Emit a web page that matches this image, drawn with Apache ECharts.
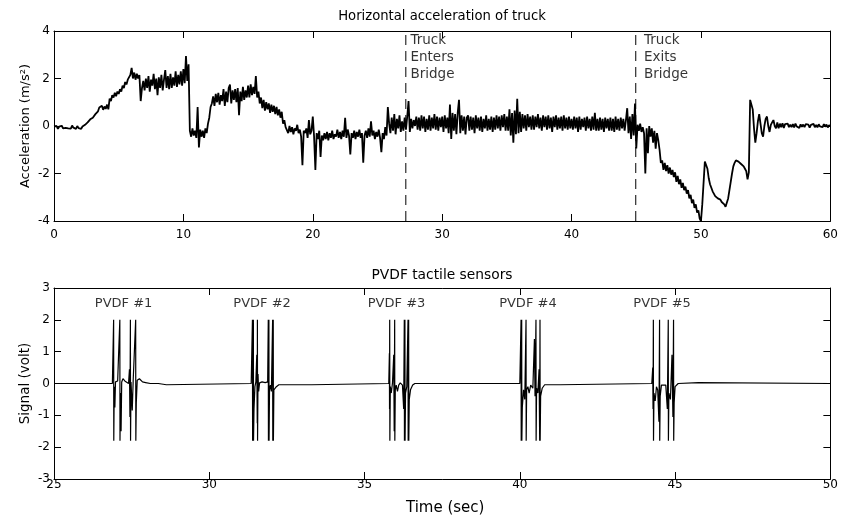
<!DOCTYPE html>
<html>
<head>
<meta charset="utf-8">
<script src="https://cdn.jsdelivr.net/npm/echarts@6/dist/echarts.min.js"></script>
<style>
html,body{margin:0;padding:0;background:#fff;}
#chart{width:841px;height:519px;}
</style>
</head>
<body>
<div id="chart"></div>
<script>
// ---------- DATA ----------
// Horizontal acceleration of truck, sampled every accelStep seconds from t = 0 (m/s^2)
const accelStep = 0.1;
const accelValues = [
-0.02,-0.1,0.0,-0.12,-0.03,-0.09,0.01,-0.1,-0.04,-0.08,
0.0,-0.1,-0.03,-0.11,0.02,-0.07,-0.02,-0.12,0.0,-0.09,
-0.04,-0.12,-0.02,-0.1,0.05,0.02,0.15,0.12,0.28,0.22,
0.35,0.32,0.5,0.45,0.62,0.78,0.7,0.85,0.68,0.82,
0.72,0.9,0.7,1.15,1.05,1.3,1.2,1.4,1.25,1.45,
1.35,1.55,1.45,1.7,1.6,1.85,1.75,1.95,1.9,2.15,
2.45,2.0,2.25,1.95,2.2,2.0,2.15,1.05,1.6,1.9,
1.5,2.0,1.6,2.1,1.45,1.95,1.7,2.2,1.55,2.0,
1.3,2.05,1.6,2.15,1.5,1.95,2.35,1.6,2.1,1.55,
2.2,1.6,2.05,1.7,2.3,1.65,2.15,1.75,2.3,1.7,
2.4,1.8,2.95,1.9,2.6,-0.2,-0.45,-0.1,-0.4,-0.2,
-0.5,0.8,-0.9,-0.15,-0.45,-0.2,-0.5,-0.1,-0.3,0.1,
0.35,0.8,0.95,1.25,0.85,1.35,1.0,1.4,0.9,1.3,
1.05,1.55,0.85,1.45,1.0,1.6,1.75,0.95,1.5,1.1,
1.55,1.0,1.6,0.45,1.45,1.05,1.65,1.1,1.5,1.2,
1.7,1.2,1.75,1.3,1.65,1.35,2.1,1.2,1.45,0.95,
1.2,0.75,1.1,0.65,1.0,0.7,0.95,0.55,0.9,0.6,
0.85,0.5,0.8,0.45,0.7,0.35,0.6,0.1,0.25,-0.05,
-0.1,-0.3,0.0,-0.25,-0.05,-0.35,-0.1,-0.2,0.05,-0.3,
-0.15,-0.45,-1.65,-0.2,-0.3,-0.1,-0.5,0.25,-0.35,-0.2,
0.4,-0.45,-1.85,-0.3,-0.55,-0.2,-1.3,-0.4,-0.6,-0.3,
-0.55,-0.25,-0.6,-0.3,-0.5,-0.2,-0.55,-0.35,-0.45,-0.15,
-0.5,-0.25,-0.55,-0.2,-0.45,0.35,-0.5,-0.15,-0.4,-1.2,
-0.3,-0.5,-0.2,-0.55,-0.25,-0.45,-0.15,-0.5,-0.3,-1.55,
-0.4,-0.2,-0.5,-0.1,-0.45,0.2,-0.4,-0.2,-0.55,-0.25,
-0.45,-0.15,-0.5,-1.1,-0.3,-0.55,-0.05,-0.4,0.8,0.1,
-0.3,0.35,-0.2,0.5,-0.35,0.3,-0.1,0.45,-0.25,0.2,
-0.2,0.35,-0.15,0.4,1.05,-0.25,0.3,-0.1,0.25,0.0,
0.4,-0.15,0.35,-0.2,0.45,-0.1,0.4,-0.25,0.3,-0.15,
0.45,-0.2,0.35,-0.1,0.5,-0.15,0.4,-0.2,0.35,-0.05,
0.4,-0.25,0.45,-0.1,0.35,-0.3,0.9,-0.55,0.55,-0.2,
0.5,-0.35,0.55,1.1,-0.3,0.45,-0.2,0.4,-0.35,0.35,
0.45,-0.2,0.4,-0.15,0.35,-0.3,0.45,-0.1,0.35,-0.2,
0.4,-0.25,0.3,-0.1,0.45,-0.2,0.3,-0.15,0.4,-0.25,
0.35,-0.15,0.45,-0.1,0.4,-0.2,0.45,-0.05,0.5,-0.2,
0.4,-0.2,0.7,-0.4,0.55,-0.7,0.65,-0.35,1.15,-0.3,
0.6,-0.25,0.5,-0.1,0.45,-0.2,0.5,-0.05,0.4,-0.15,
0.45,-0.15,0.4,-0.05,0.5,-0.1,0.35,-0.2,0.45,-0.05,
0.4,-0.15,0.45,-0.1,0.35,-0.25,0.4,-0.05,0.45,-0.15,
0.35,-0.1,0.4,-0.2,0.45,-0.1,0.35,-0.15,0.4,-0.1,
0.3,-0.15,0.4,-0.1,0.35,-0.25,0.4,-0.15,0.3,-0.05,
0.35,-0.2,0.4,-0.1,0.3,-0.2,0.4,-0.15,0.55,-0.2,
0.3,-0.2,0.35,-0.15,0.3,-0.25,0.35,-0.1,0.3,-0.2,
0.35,-0.2,0.3,-0.25,0.4,-0.15,0.3,-0.2,0.35,-0.1,
0.3,-0.2,0.25,0.75,-0.3,0.4,-0.55,0.5,-0.4,0.95,
-0.95,0.05,-0.2,0.1,-0.25,-0.05,-0.3,-2.0,-0.1,-1.15,
0.0,-0.45,-0.1,-0.7,-0.2,-0.95,-0.3,-0.6,-1.0,-1.55,
-1.45,-1.85,-1.55,-1.9,-1.65,-2.0,-1.75,-2.05,-1.85,-2.15,
-1.95,-2.35,-2.1,-2.45,-2.25,-2.6,-2.4,-2.7,-2.55,-2.85,
-2.7,-3.05,-2.9,-3.25,-3.1,-3.45,-3.3,-3.65,-3.55,-3.9,
-4.0,-3.3,-2.4,-1.5,-1.45,-1.8,-2.2,-2.45,-2.6,-2.75,
-2.8,-2.95,-2.9,-3.05,-3.1,-3.1,-3.2,-3.25,-3.3,-3.4,
-3.35,-3.05,-2.7,-2.35,-2.0,-1.7,-1.55,-1.45,-1.4,-1.5,
-1.55,-1.6,-1.65,-1.7,-1.8,-1.9,-2.25,-1.95,1.1,0.9,
0.7,-0.1,-0.7,-0.3,0.2,0.5,0.1,-0.3,-0.45,0.0,
0.3,0.4,0.0,-0.25,0.05,0.15,0.25,0.0,-0.1,0.15,
-0.1,0.1,-0.05,0.12,-0.08,0.08,0.0,0.1,-0.05,0.06,
-0.05,0.08,-0.06,0.1,-0.02,0.05,-0.08,0.07,-0.03,0.06,
-0.05,0.08,0.0,0.06,-0.07,0.05,-0.02,0.09,-0.05,0.04,
-0.06,0.07,-0.02,0.05,-0.05,0.08,-0.03,0.06,-0.06,0.03,
0.0
];

// Bridge crossing events (time, s) and their annotations
const crossingTimes = [27.19, 44.96];
const crossingTexts = ['Truck\nEnters\nBridge', 'Truck\nExits\nBridge'];
const crossingTextX = [27.55, 45.6];
const crossingTextY = 2.9;

// PVDF tactile sensor signal (time s, volt)
const sensorTime = [
25,26.88,26.92,26.925,26.94,26.96,26.98,27.05,27.1,27.12,27.125,27.14,27.16,27.18,27.22,27.28,27.33,27.4,27.43,27.445,27.46,27.465,27.48,27.52,27.55,27.6,27.63,27.635,27.65,27.68,27.75,27.85,27.95,28.1,28.36,28.37,28.62,28.63,
31.35,31.39,31.395,31.41,31.42,31.425,31.44,31.47,31.5,31.53,31.545,31.55,31.555,31.57,31.59,31.62,31.7,31.8,31.88,31.9,31.905,31.92,31.925,31.94,31.97,32.0,32.04,32.045,32.06,32.065,32.08,32.12,32.16,32.24,33.3,33.32,
35.78,35.8,35.805,35.81,35.815,35.83,35.86,35.9,35.94,35.955,35.97,35.975,35.99,36.02,36.06,36.1,36.15,36.22,36.26,36.28,36.285,36.3,36.305,36.32,36.36,36.4,36.405,36.42,36.425,36.44,36.48,36.55,36.62,
40.0,40.04,40.045,40.06,40.065,40.08,40.12,40.16,40.2,40.205,40.22,40.26,40.3,40.35,40.42,40.47,40.49,40.52,40.525,40.54,40.58,40.62,40.64,40.65,40.655,40.67,40.72,40.8,41.3,41.32,
44.25,44.28,44.29,44.3,44.305,44.32,44.36,44.4,44.44,44.48,44.5,44.505,44.52,44.56,44.62,44.7,44.75,44.78,44.785,44.8,44.85,44.9,44.93,44.95,44.955,44.97,45.0,45.1,45.15,45.75,45.77,50
];
const sensorVolt = [
0,0,2,-1.8,-0.1,-0.75,0.05,0.08,0.05,2,-1.8,-0.3,-1.5,0.05,0.15,0.08,0.12,0.0,0.45,-1.05,2,-1.8,0.05,-0.85,0.1,0.05,2,-1.8,-0.6,0.1,0.15,0.05,0.03,0,0,-0.04,-0.04,0,
0,2,-1.8,-0.2,2,-1.8,-0.8,-0.1,0.05,0.9,-1.25,2,-1.8,0.3,-0.25,0.02,0.05,0.03,0.05,2,-1.8,2,-1.8,-0.2,-0.05,-0.25,2,-1.8,2,-1.8,-0.2,-0.25,-0.1,-0.04,-0.04,0,
0,0.95,-0.8,2,-1.8,-0.1,-0.3,0.02,0.9,-1.5,2,-1.8,-0.2,-0.05,-0.25,-0.05,0.02,-0.05,-0.8,2,-1.8,2,-1.8,-0.3,-0.1,2,-1.8,2,-1.8,-0.5,-0.2,-0.05,0,
0,2,-1.8,2,-1.8,-0.75,-0.2,-0.5,2,-1.8,-0.2,-0.1,-0.3,-0.05,-0.15,1.4,-0.4,2,-1.8,-0.15,-0.3,0.45,-1.8,2,-1.8,-0.4,-0.15,-0.04,-0.04,0,
0,0.5,-0.8,2,-1.8,-0.3,-0.55,-0.1,-0.2,-1.2,2,-1.8,-0.4,-0.05,-0.1,-0.05,-0.8,2,-1.8,-0.3,-0.5,0.9,-1.05,2,-1.8,-0.6,-0.1,0.0,0.03,0.03,0,0
];
const sensorNames = ['PVDF #1', 'PVDF #2', 'PVDF #3', 'PVDF #4', 'PVDF #5'];
const sensorNameX = [27.24, 31.7, 36.03, 40.26, 44.58];
const sensorNameY = 2.5;

// ---------- CHART ----------
const FONT = 'DejaVu Sans';
const accelData = accelValues.map((v, i) => [+(i * accelStep).toFixed(2), v]);
const sensorData = sensorTime.map((t, i) => [t, sensorVolt[i]]);

function baseAxis(extra) {
  return Object.assign({
    type: 'value',
    axisLine: { show: true, onZero: false, lineStyle: { color: '#000', width: 1 } },
    axisTick: { show: true, inside: true, length: 7, lineStyle: { color: '#000', width: 1 } },
    splitLine: { show: false },
    axisLabel: { show: true, color: '#000', fontFamily: FONT, fontSize: 12 }
  }, extra);
}

const chart = echarts.init(document.getElementById('chart'), null, { renderer: 'canvas' });
const option = {
  animation: false,
  backgroundColor: '#fff',
  title: [
    { text: 'Horizontal acceleration of truck', left: 437, top: 5, textAlign: 'center',
      textStyle: { fontFamily: FONT, fontSize: 13.2, fontWeight: 'normal', color: '#000' } },
    { text: 'PVDF tactile sensors', left: 437, top: 263, textAlign: 'center',
      textStyle: { fontFamily: FONT, fontSize: 13.8, fontWeight: 'normal', color: '#000' } }
  ],
  grid: [
    { left: 54, top: 31, width: 780, height: 190 },
    { left: 54, top: 288, width: 780, height: 191 }
  ],
  xAxis: [
    baseAxis({ gridIndex: 0, position: 'bottom', min: 0, max: 60, interval: 10,
      axisLabel: { color: '#000', fontFamily: FONT, fontSize: 12, margin: 8 } }),
    baseAxis({ gridIndex: 0, position: 'top', min: 0, max: 60, interval: 10, axisLabel: { show: false } }),
    baseAxis({ gridIndex: 1, position: 'bottom', min: 25, max: 50, interval: 5,
      axisLabel: { color: '#000', fontFamily: FONT, fontSize: 12, margin: 0 },
      name: 'Time (sec)', nameLocation: 'middle', nameGap: 22, nameMoveOverlap: false,
      nameTextStyle: { fontFamily: FONT, fontSize: 15, color: '#000', padding: [0, 0, 0, 6] } }),
    baseAxis({ gridIndex: 1, position: 'top', min: 25, max: 50, interval: 5, axisLabel: { show: false } })
  ],
  yAxis: [
    baseAxis({ gridIndex: 0, position: 'left', min: -4, max: 4, interval: 2,
      axisLabel: { color: '#000', fontFamily: FONT, fontSize: 12, margin: 4 },
      name: 'Acceleration (m/s²)', nameLocation: 'middle', nameGap: 22, nameRotate: 90, nameMoveOverlap: false,
      nameTextStyle: { fontFamily: FONT, fontSize: 13, color: '#000' } }),
    baseAxis({ gridIndex: 0, position: 'right', min: -4, max: 4, interval: 2, axisLabel: { show: false } }),
    baseAxis({ gridIndex: 1, position: 'left', min: -3, max: 3, interval: 1,
      axisLabel: { color: '#000', fontFamily: FONT, fontSize: 12, margin: 4 },
      name: 'Signal (volt)', nameLocation: 'middle', nameGap: 22, nameRotate: 90, nameMoveOverlap: false,
      nameTextStyle: { fontFamily: FONT, fontSize: 13.5, color: '#000' } }),
    baseAxis({ gridIndex: 1, position: 'right', min: -3, max: 3, interval: 1, axisLabel: { show: false } })
  ],
  series: [
    { type: 'line', xAxisIndex: 0, yAxisIndex: 0, data: accelData, symbol: 'none', clip: true,
      lineStyle: { color: '#000', width: 1.8 }, silent: true },
    ...crossingTimes.map(t => ({
      type: 'line', xAxisIndex: 0, yAxisIndex: 0, symbol: 'none', silent: true,
      data: [[t, -4], [t, 4]],
      lineStyle: { color: '#000', width: 1, type: [10, 6] }
    })),
    { type: 'scatter', xAxisIndex: 0, yAxisIndex: 0, symbolSize: 0, silent: true,
      itemStyle: { color: '#000' },
      data: crossingTextX.map(x => [x, crossingTextY]),
      label: { show: true, position: 'right', distance: 0, align: 'left',
        formatter: p => crossingTexts[p.dataIndex],
        fontFamily: FONT, fontSize: 13.5, lineHeight: 17, color: '#000' } },
    { type: 'line', xAxisIndex: 2, yAxisIndex: 2, data: sensorData, symbol: 'none', clip: true,
      lineStyle: { color: '#000', width: 1.2 }, silent: true },
    { type: 'scatter', xAxisIndex: 2, yAxisIndex: 2, symbolSize: 0, silent: true,
      itemStyle: { color: '#000' },
      data: sensorNameX.map(x => [x, sensorNameY]),
      label: { show: true, position: 'inside',
        formatter: p => sensorNames[p.dataIndex],
        fontFamily: FONT, fontSize: 13, color: '#000' } }
  ]
};
chart.setOption(option);
</script>
</body>
</html>
